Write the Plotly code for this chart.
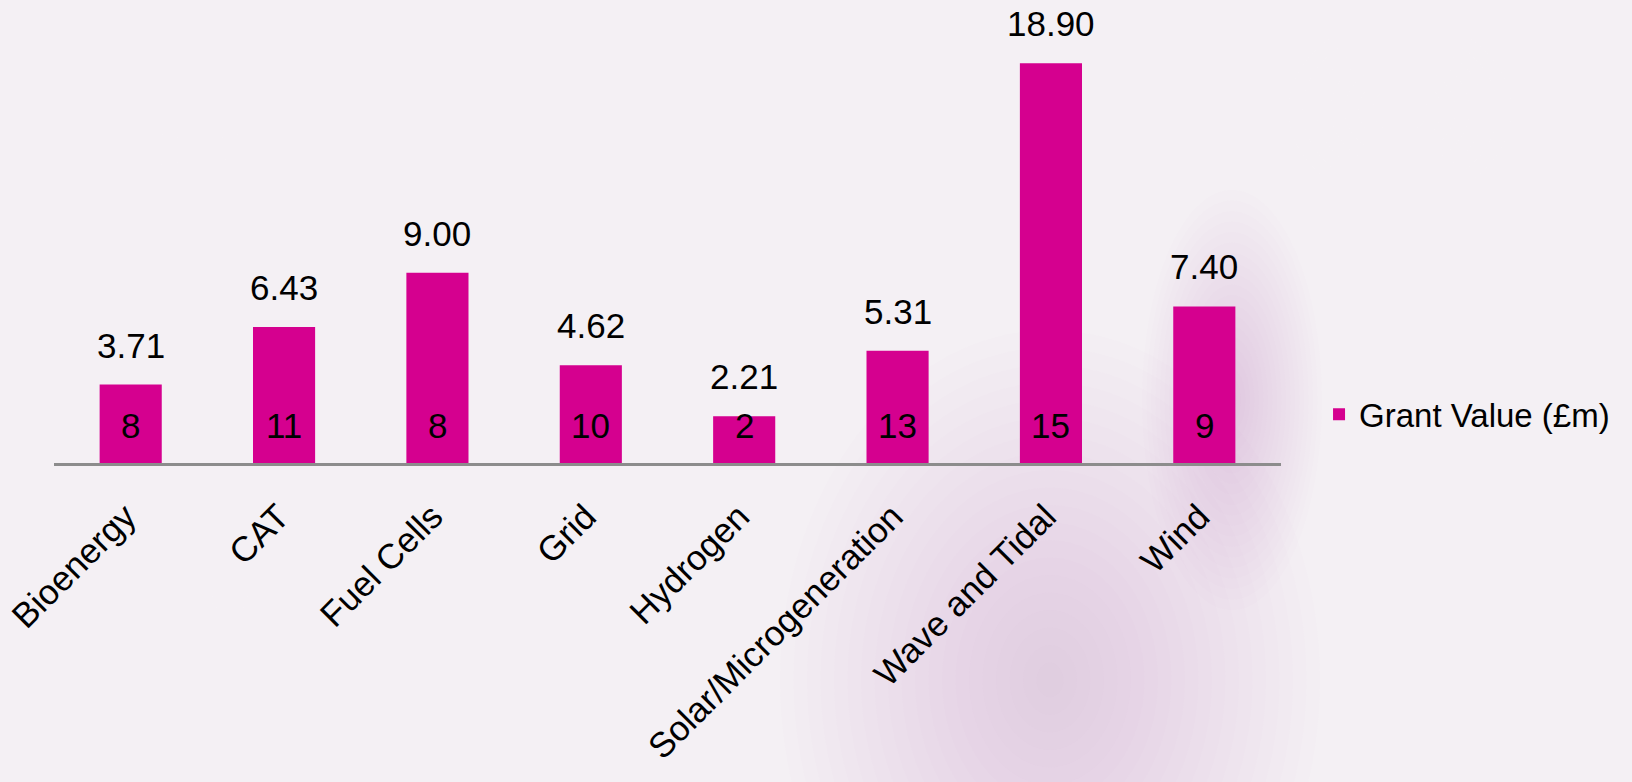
import plotly.graph_objects as go

categories = ["Bioenergy", "CAT", "Fuel Cells", "Grid", "Hydrogen",
              "Solar/Microgeneration", "Wave and Tidal", "Wind"]
grant_values = [3.71, 6.43, 9.00, 4.62, 2.21, 5.31, 18.90, 7.40]
project_counts = [8, 11, 8, 10, 2, 13, 15, 9]
series_name = "Grant Value (£m)"

W, H = 1632, 782
L, R, T, B = 54, 351, 40, 319
FONT = "Liberation Sans, Arial, sans-serif"
BAR = "#D5008F"
FS = 35

fig = go.Figure()
fig.add_trace(go.Bar(
    x=categories, y=grant_values, name=series_name,
    marker=dict(color=BAR, line=dict(width=0)),
    showlegend=True,
))

annotations = []
for c, v, n in zip(categories, grant_values, project_counts):
    annotations.append(dict(x=c, y=v, xref="x", yref="y", text=f"{v:.2f}",
                            showarrow=False, yanchor="bottom", yshift=18,
                            font=dict(family=FONT, size=FS, color="black")))
    annotations.append(dict(x=c, y=0, xref="x", yref="y", text=str(n),
                            showarrow=False, yanchor="bottom", yshift=16,
                            font=dict(family=FONT, size=FS, color="black")))

# soft background blobs (pixel positions -> paper coords)
def px2paper(px, py):
    return (px - L) / (W - L - R), (H - B - py) / (H - T - B)

shapes = []
def blob(cx, cy, rx, ry, color, steps=20, alpha=0.03):
    for i in range(steps):
        f = 1 - i / steps
        x0, y0 = px2paper(cx - rx * f, cy + ry * f)
        x1, y1 = px2paper(cx + rx * f, cy - ry * f)
        shapes.append(dict(type="circle", xref="paper", yref="paper",
                           x0=x0, y0=y0, x1=x1, y1=y1, layer="below",
                           fillcolor=color, opacity=alpha, line=dict(width=0)))

LAV = "#C8A8CC"
blob(1050, 680, 270, 350, LAV, alpha=0.022)
blob(1232, 400, 90, 210, LAV, alpha=0.018)
blob(1430, 730, 300, 200, "#D0B8D4", alpha=0.005)
blob(720, 170, 330, 230, "#D8C8DC", alpha=0.004)
blob(1400, 110, 280, 230, "#FFFFFF", alpha=0.021)
blob(230, 600, 380, 230, "#FFFFFF", alpha=0.012)
blob(200, 150, 300, 200, "#FFFFFF", alpha=0.008)

fig.update_layout(
    width=W, height=H,
    margin=dict(l=L, r=R, t=T, b=B, autoexpand=False),
    paper_bgcolor="#F4F0F4",
    plot_bgcolor="rgba(0,0,0,0)",
    bargap=0.595,
    font=dict(family=FONT, size=FS, color="black"),
    xaxis=dict(showline=True, linecolor="#8C8C8C", linewidth=3,
               ticks="", tickangle=-45, showgrid=False, zeroline=False,
               tickfont=dict(family=FONT, size=FS, color="black"),
               ticklabelstandoff=16, ticklabelshift=-5,
               automargin=False, fixedrange=True),
    yaxis=dict(range=[0, 20], visible=False, showgrid=False, zeroline=False,
               automargin=False, fixedrange=True),
    showlegend=True,
    legend=dict(x=1.031, y=0.115, xanchor="left", yanchor="middle",
                bgcolor="rgba(0,0,0,0)", itemwidth=30,
                font=dict(family=FONT, size=33, color="black")),
    annotations=annotations,
    shapes=shapes,
)

fig.write_html("out.html", config={"displayModeBar": False},
               post_script="document.body.style.margin='0';")
